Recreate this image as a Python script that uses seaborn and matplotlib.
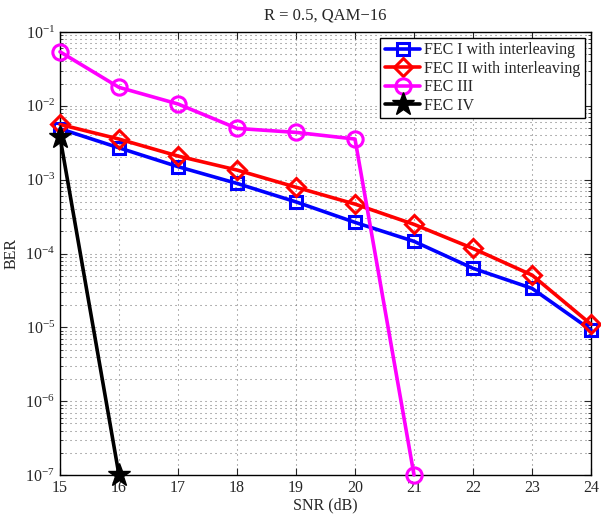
import numpy as np
import pandas as pd
import matplotlib
matplotlib.use("Agg")
import matplotlib.pyplot as plt
from matplotlib.ticker import LogLocator, FixedLocator, NullFormatter
import seaborn as sns

# SNR axis (dB)
snr = [15, 16, 17, 18, 19, 20, 21, 22, 23, 24]

# BER per scheme
ber_fec1 = [4.9e-3, 2.70e-3, 1.50e-3, 8.9e-4, 5.0e-4, 2.64e-4, 1.46e-4, 6.3e-5, 3.37e-5, 9.2e-6]
ber_fec2 = [5.6e-3, 3.55e-3, 2.09e-3, 1.35e-3, 7.9e-4, 4.67e-4, 2.48e-4, 1.17e-4, 5.1e-5, 1.10e-5]
snr_fec3 = [15, 16, 17, 18, 19, 20, 21]
ber_fec3 = [0.054, 0.0178, 0.0106, 4.95e-3, 4.37e-3, 3.55e-3, 1e-7]
snr_fec4 = [15, 16]
ber_fec4 = [3.8e-3, 1e-7]

labels = ["FEC I with interleaving", "FEC II with interleaving", "FEC III", "FEC IV"]
colors = ["#0000ff", "#ff0000", "#ff00ff", "#000000"]
markers = ["s", "D", "o", "*"]

frames = [
    pd.DataFrame({"SNR": snr, "BER": ber_fec1, "scheme": labels[0]}),
    pd.DataFrame({"SNR": snr, "BER": ber_fec2, "scheme": labels[1]}),
    pd.DataFrame({"SNR": snr_fec3, "BER": ber_fec3, "scheme": labels[2]}),
    pd.DataFrame({"SNR": snr_fec4, "BER": ber_fec4, "scheme": labels[3]}),
]
df = pd.concat(frames, ignore_index=True)

sns.set_style("ticks")
plt.rcParams["font.family"] = ["Liberation Serif", "DejaVu Serif"]
plt.rcParams["mathtext.fontset"] = "custom"
plt.rcParams["mathtext.rm"] = "Liberation Serif"
plt.rcParams["mathtext.it"] = "Liberation Serif:italic"
plt.rcParams["font.size"] = 11.5

fig = plt.figure(figsize=(6.01, 5.14), dpi=100)
ax = fig.add_axes([0.0998, 0.0759, 0.8836, 0.8618])

msizes = {"s": 9, "D": 9, "o": 11, "*": 17}
for lab, col, mk in zip(labels, colors, markers):
    sub = df[df["scheme"] == lab]
    filled = mk == "*"
    sns.lineplot(
        data=sub, x="SNR", y="BER", ax=ax, color=col, linewidth=2.6,
        marker=mk, markersize=msizes[mk],
        markerfacecolor=col if filled else "none",
        markeredgecolor=col, markeredgewidth=2.2 if not filled else 1.0,
        label=lab, zorder=3, clip_on=False,
    )

ax.set_yscale("log")
ax.set_xlim(15, 24)
ax.set_ylim(1e-7, 1e-1)
ax.xaxis.set_major_locator(FixedLocator(snr))
ax.yaxis.set_major_locator(LogLocator(base=10, numticks=10))
ax.yaxis.set_minor_locator(LogLocator(base=10, subs=np.arange(2, 10), numticks=20))
ax.yaxis.set_minor_formatter(NullFormatter())

# sparse dotted grid
dots = (0, (1, 3.8))
ax.grid(True, which="major", axis="both", linestyle=dots, color="0.45", linewidth=0.75)
ax.grid(True, which="minor", axis="y", linestyle=dots, color="0.45", linewidth=0.75)

ax.tick_params(which="both", direction="in", top=True, right=True, labelsize=11.5)
ax.tick_params(which="major", length=5, width=0.8)
ax.tick_params(which="minor", length=2.5, width=0.6)
for sp in ax.spines.values():
    sp.set_linewidth(1.0)
    sp.set_color("black")

ax.set_title("R = 0.5, QAM\u221216", fontsize=12, pad=9)
ax.set_xlabel("SNR (dB)", fontsize=11.5, labelpad=1)
ax.set_ylabel("BER", fontsize=11.5, labelpad=4)

leg = ax.legend(loc="upper right", fontsize=11.5, frameon=True, fancybox=False,
                handlelength=2.2, handletextpad=0.25, borderpad=0.3,
                labelspacing=0.15, borderaxespad=0.35)
leg.get_frame().set_edgecolor("black")
leg.get_frame().set_linewidth(1.0)
leg.get_frame().set_alpha(1.0)

fig.savefig("out.png", dpi=100)
